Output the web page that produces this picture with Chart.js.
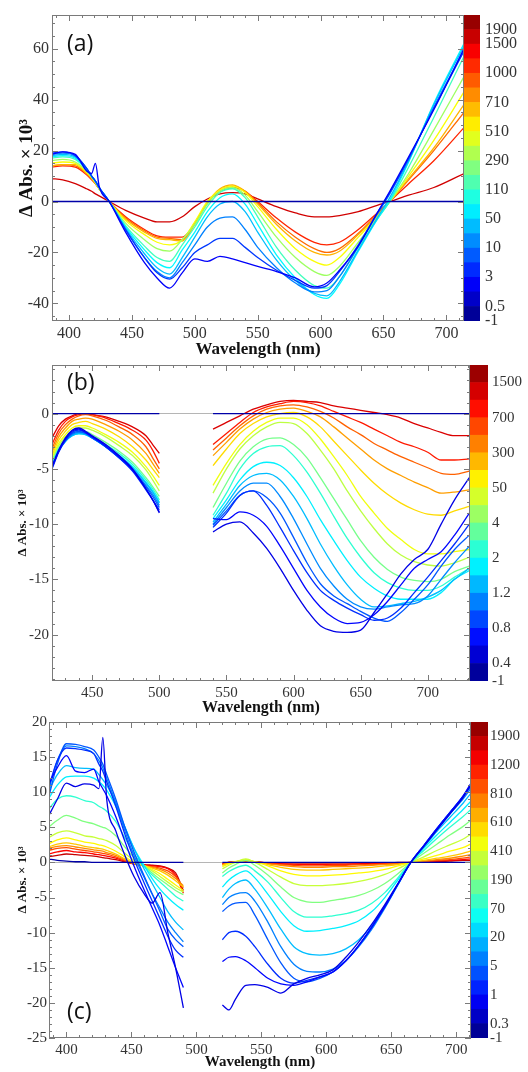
<!DOCTYPE html>
<html>
<head>
<meta charset="utf-8">
<script src="https://cdn.jsdelivr.net/npm/chart.js@4.4.1/dist/chart.umd.min.js"></script>
<style>
  html, body { margin: 0; padding: 0; background: #fff; }
  #page { position: relative; width: 528px; height: 1072px; overflow: hidden; background: #fff; }
  canvas { position: absolute; }
</style>
</head>
<body>
<div id="page">
  <canvas id="plotA" width="464" height="360" style="left:0;top:0"></canvas>
  <canvas id="barA" width="64" height="360" style="left:464px;top:0"></canvas>
  <canvas id="plotB" width="470" height="370" style="left:0;top:350px"></canvas>
  <canvas id="barB" width="58" height="370" style="left:470px;top:350px"></canvas>
  <canvas id="plotC" width="471" height="372" style="left:0;top:700px"></canvas>
  <canvas id="barC" width="57" height="372" style="left:471px;top:700px"></canvas>
</div>
<script>
// === ДАННЫЕ ===

// (a) delays in ps on the colour bar
const aBarLabels = ['-1', '0.5', '3', '10', '50', '110', '290', '510', '710', '1000', '1500', '1900'];
const aBarTicks = [0, 1, 3, 5, 7, 9, 11, 13, 15, 17, 19, 20];
const aXTicks = [400, 450, 500, 550, 600, 650, 700];
const aYTicks = [-40, -20, 0, 20, 40, 60];
const aWave = [386, 395, 405, 414, 418, 421, 424, 432, 445, 460, 470, 480, 490, 500, 510, 520, 530, 540, 550, 565, 580, 595, 605, 615, 630, 645, 655, 670, 690, 714];
const aSpectra = [
    [0, 0, 0, 0, 0, 0, 0, 0, 0, 0, 0, 0, 0, 0, 0, 0, 0, 0, 0, 0, 0, 0, 0, 0, 0, 0, 0, 0, 0, 0],
    [18.5, 19.5, 18.5, 12, 11, 15, 6, 0, -12, -24, -30, -34, -28, -22.5, -23.5, -21.5, -22.5, -24, -25.5, -27.5, -30, -33.5, -32, -27, -17.5, -4.5, 4, 17.5, 36, 60],
    [19, 19.5, 18, 13, 10, 8, 5.5, 0, -11, -22, -28, -30.5, -26, -20, -17, -14.5, -14.5, -18, -22, -27, -31, -34, -33, -27.5, -17, -4.5, 3.5, 17, 36.5, 59],
    [18.5, 19, 18, 13, 10, 8, 5.5, 0, -11, -22, -27.5, -30, -24, -17, -10, -6.5, -6, -11, -18, -26, -32, -35.5, -35, -29.5, -17.5, -5, 3, 16.5, 37, 59.5],
    [18, 18.5, 17.5, 13, 10, 8, 5.5, 0, -10.5, -20.5, -26, -28.5, -22, -14, -6, -1, 0, -4, -12, -23, -31, -36, -37, -31.5, -19, -6.5, 1.5, 16, 38, 61],
    [17.5, 18, 17, 12.5, 10, 8, 5.5, 0, -10, -19, -24, -26, -19, -12, -4, 1.5, 3, -1, -9, -21, -30, -36.5, -38, -32.5, -19.5, -7, 0.5, 15.5, 38.5, 62],
    [17, 17.5, 16.5, 12.5, 10, 8, 5.5, 0, -9.5, -17.5, -22, -23.5, -17, -10, -2, 3.5, 5, 1.5, -6, -18, -27, -33, -34, -29.5, -18, -7, 0, 13.5, 33, 57],
    [16, 16.5, 15.5, 12, 9.5, 7.5, 5, 0, -8.5, -15, -18.5, -19.5, -15, -9, -1, 4, 5.5, 2.5, -4, -14, -22, -27.5, -29, -25.5, -16, -6.5, 0, 11, 28, 49],
    [15, 15.5, 15, 11.5, 9.5, 7.5, 5, 0, -7.5, -13, -16, -17, -15, -8, 0, 4.5, 6, 3.5, -2, -11, -18.5, -23.5, -25, -22, -14, -6, 0, 10, 24, 43],
    [14, 14.5, 14.5, 11, 9, 7, 5, 0, -7, -12, -14.5, -15, -15.5, -9, -0.5, 5, 6.5, 4, -1, -9, -15.5, -20, -21, -19.5, -13, -5.5, 0, 9, 21, 38],
    [14, 14.5, 14, 11, 9, 7, 5, 0, -6.5, -11.5, -14, -14.5, -15, -8.5, -0.5, 4.5, 6, 4, -0.5, -8, -14, -18.5, -20, -18.5, -12.5, -5, 0, 8.5, 20, 35],
    [13.5, 14, 13.5, 10.5, 8.5, 7, 5, 0, -6, -11, -13.5, -14, -14, -8.5, -0.5, 4, 5.5, 4, 0, -6.5, -12, -16, -17, -16, -11, -4.5, 0, 7, 16, 29],
    [9, 8.5, 7, 5, 4, 3, 2.2, 0, -3.5, -6.5, -8, -8, -6, -2, 1, 3, 3.5, 3, 1, -2, -4.5, -6, -6, -5.5, -4, -1.5, 0, 2.5, 5.5, 11]
];

// (b)
const bBarLabels = ['-1', '0.4', '0.8', '1.2', '2', '4', '50', '300', '700', '1500'];
const bBarTicks = [0, 1, 3, 5, 7, 9, 11, 13, 15, 17];
const bXTicks = [450, 500, 550, 600, 650, 700];
const bYTicks = [-20, -15, -10, -5, 0];
const bWaveLeft = [420, 425, 430, 435, 440, 445, 450, 460, 470, 480, 490, 495, 500];
const bWaveRight = [540, 550, 560, 570, 580, 590, 600, 610, 620, 630, 640, 650, 660, 670, 680, 690, 700, 710, 720, 731];
const bLeft = [
    [0, 0, 0, 0, 0, 0, 0, 0, 0, 0, 0, 0, 0],
    [-4.8, -3.3, -2.2, -1.5, -1.3, -1.6, -2, -2.8, -3.8, -5, -6.8, -7.8, -9],
    [-4.9, -3.4, -2.3, -1.6, -1.4, -1.7, -2.1, -2.9, -3.9, -5.1, -6.8, -7.8, -8.9],
    [-5, -3.5, -2.4, -1.7, -1.5, -1.7, -2.1, -3, -4, -5.2, -6.9, -7.8, -8.7],
    [-4.9, -3.4, -2.4, -1.8, -1.6, -1.8, -2.2, -3, -4, -5.1, -6.6, -7.5, -8.5],
    [-4.8, -3.4, -2.5, -1.9, -1.7, -1.8, -2.2, -3, -4, -5, -6.5, -7.3, -8.3],
    [-4.7, -3.3, -2.5, -2, -1.8, -1.9, -2.2, -3, -3.9, -4.9, -6.3, -7.1, -8.1],
    [-4.6, -3.3, -2.5, -2, -1.8, -1.9, -2.2, -3, -3.8, -4.8, -6.2, -7, -8],
    [-4.5, -3.2, -2.4, -1.9, -1.8, -1.8, -2.1, -2.8, -3.6, -4.6, -6, -6.8, -7.8],
    [-4.4, -3.1, -2.3, -1.8, -1.6, -1.6, -1.9, -2.6, -3.4, -4.4, -5.8, -6.6, -7.5],
    [-4.2, -2.9, -2.1, -1.5, -1.3, -1.3, -1.5, -2.1, -2.9, -3.8, -5.1, -6, -7],
    [-4, -2.7, -1.9, -1.3, -1.1, -1.1, -1.3, -1.9, -2.6, -3.5, -4.8, -5.6, -6.5],
    [-3.8, -2.4, -1.6, -1, -0.8, -0.7, -0.9, -1.4, -2.1, -3, -4.2, -5, -5.8],
    [-3.5, -2.1, -1.3, -0.7, -0.5, -0.4, -0.5, -1, -1.6, -2.4, -3.6, -4.5, -5.4],
    [-3.2, -1.8, -1, -0.5, -0.2, -0.1, -0.2, -0.6, -1.2, -1.9, -3, -4, -5],
    [-2.8, -1.5, -0.7, -0.3, -0.1, 0, -0.1, -0.4, -0.9, -1.5, -2.4, -3.3, -4.5],
    [-2.2, -1.1, -0.5, -0.2, 0, 0, -0.1, -0.3, -0.7, -1.2, -2, -2.8, -3.6]
];
const bRight = [
    [0, 0, 0, 0, 0, 0, 0, 0, 0, 0, 0, 0, 0, 0, 0, 0, 0, 0, 0, 0],
    [-10.7, -10, -9.8, -10.8, -12.2, -14, -16, -17.8, -19.2, -19.7, -19.8, -19.6, -18, -16.3, -14.5, -13.2, -12.3, -10, -7.8, -5.8],
    [-9.5, -9.6, -8.9, -9.2, -10.2, -12, -14, -16, -17.5, -18.5, -19, -18.9, -18.2, -17, -15.5, -14, -13.2, -12.5, -11, -9],
    [-10.3, -9, -7.4, -7, -8.3, -10.3, -12.4, -14.4, -16, -16.9, -17.6, -18.2, -18.7, -18.5, -17.6, -16.2, -14.8, -13.3, -11.8, -10],
    [-10.1, -8.8, -7.4, -7, -7.6, -9, -11.2, -13.5, -15.4, -16.5, -17.2, -17.9, -18.5, -18.8, -18, -16.8, -15.5, -13.8, -12.3, -11],
    [-10, -8.5, -7, -6.3, -6.3, -7.5, -9.5, -11.8, -14, -15.6, -16.8, -17.5, -17.7, -17.5, -17.3, -17.2, -16.5, -15, -13.5, -12],
    [-9.8, -8.2, -6.5, -5.6, -5.4, -6, -7.5, -9.5, -11.8, -13.8, -15.5, -16.8, -17.5, -17.4, -17.2, -17, -16.6, -16, -15, -14],
    [-9.5, -7.8, -6, -4.8, -4.4, -4.7, -5.8, -7.5, -9.6, -11.5, -13.3, -14.8, -15.8, -16.5, -16.8, -16.8, -16.8, -16.2, -15, -14.2],
    [-9.2, -7.2, -5, -3.6, -3, -2.9, -3.8, -5.3, -7.2, -9.3, -11.3, -13, -14.4, -15.3, -15.8, -16, -16, -15.6, -14.8, -14],
    [-8.5, -6.3, -4.3, -3, -2.3, -2.2, -2.8, -4, -5.8, -7.7, -9.6, -11.5, -13, -14.1, -14.8, -15.1, -15.2, -15, -14.3, -13.8],
    [-7.2, -5, -3.2, -2, -1.2, -0.8, -0.9, -1.8, -3.3, -5, -7, -8.8, -10.4, -11.8, -12.8, -13.4, -13.7, -13.8, -13.5, -13],
    [-6.5, -4.5, -2.8, -1.6, -0.8, -0.4, -0.4, -1, -2.3, -3.9, -5.6, -7.5, -9, -10.4, -11.4, -12.3, -12.7, -12.7, -12.5, -12.3],
    [-4.7, -3.2, -1.8, -0.9, -0.3, 0, 0.1, -0.3, -1.2, -2.5, -3.8, -5.1, -6.3, -7.3, -8.1, -8.7, -9.1, -9.2, -8.8, -8.4],
    [-3.8, -2.6, -1.4, -0.5, 0.1, 0.4, 0.5, 0.2, -0.3, -1.2, -2.2, -3.2, -4.2, -5, -5.6, -6.2, -6.7, -7.2, -7.1, -6.9],
    [-3.3, -2.2, -1.1, -0.2, 0.4, 0.7, 0.8, 0.6, 0.2, -0.4, -1.2, -1.9, -2.7, -3.3, -3.9, -4.4, -4.9, -5.4, -5.5, -5.2],
    [-2.8, -1.8, -0.8, 0.1, 0.6, 0.9, 1.1, 1, 0.7, 0.2, -0.3, -0.8, -1.4, -2, -2.6, -3, -3.5, -4.2, -4.2, -4.1],
    [-1.4, -0.8, -0.2, 0.4, 0.8, 1.1, 1.2, 1.1, 1, 0.7, 0.5, 0.3, 0.1, -0.1, -0.4, -0.9, -1.3, -1.7, -2, -2]
];

// (c)
const cBarLabels = ['-1', '0.3', '1', '5', '20', '70', '190', '410', '610', '810', '1200', '1900'];
const cBarTicks = [0, 1, 3, 5, 7, 9, 11, 13, 15, 17, 19, 21];
const cXTicks = [400, 450, 500, 550, 600, 650, 700];
const cYTicks = [-25, -20, -15, -10, -5, 0, 5, 10, 15, 20];
const cWaveLeft = [386, 393, 400, 407, 414, 421, 425, 428, 431, 438, 445, 452, 460, 466, 472, 478, 484, 490];
const cWaveRight = [520, 525, 530, 538, 545, 555, 565, 575, 585, 595, 605, 615, 625, 635, 645, 655, 665, 675, 685, 695, 705, 711];
const cLeft = [
    [0.5, 0.3, 0.2, 0.1, 0.1, 0, 0, 0, 0, 0, 0, 0, 0, 0, 0, 0, 0, 0],
    [6.5, 9, 11.3, 10.8, 11.2, 11, 10.5, 17.8, 9, 4.5, 1, -2, -4.5, -5.8, -4.3, -10, -15, -20.7],
    [11, 13.5, 15.2, 13, 12.8, 13.3, 11.5, 10.5, 9.5, 6.5, 3, -0.5, -4, -6.5, -9, -12, -15, -17.8],
    [10.5, 14.5, 16.3, 16.2, 16, 15.5, 14, 13, 11.5, 8, 4, 0.5, -3, -5.5, -8, -10.5, -12.5, -13.5],
    [9, 14, 16.9, 16.8, 16.5, 16, 15, 14, 12.5, 9, 5, 1.5, -2, -4.5, -7, -9.5, -11, -12],
    [10, 14.5, 16.6, 16.5, 16.2, 15.5, 14.5, 13.5, 12, 8.5, 4.5, 1, -2.2, -4.5, -6.5, -8.5, -10, -11.3],
    [10, 12.5, 13.8, 13.5, 13.4, 13.3, 12.5, 11.8, 11, 8.5, 5, 2, -1, -3, -5, -7, -8.5, -9.6],
    [9, 11, 12.2, 12.3, 12.3, 12, 11.5, 11, 10.3, 8, 5, 2, -0.5, -2.3, -3.8, -5, -6, -6.8],
    [7.5, 9, 9.5, 9.3, 8.8, 8.5, 8, 7.7, 7.3, 5.8, 3.5, 1.2, -0.6, -1.8, -2.8, -3.8, -4.8, -5.5],
    [5, 6, 6.7, 6.3, 5.8, 5.5, 5.2, 5, 4.8, 3.8, 2.2, 0.7, -0.5, -1.5, -2.4, -3.2, -4, -4.6],
    [3.5, 4.2, 4.5, 4.2, 3.8, 3.6, 3.4, 3.3, 3.1, 2.4, 1.3, 0.3, -0.5, -1.2, -2, -2.8, -3.6, -4.2],
    [2.6, 3.2, 3.5, 3.2, 2.9, 2.7, 2.5, 2.4, 2.2, 1.6, 0.8, 0, -0.5, -1, -1.6, -2.4, -3.2, -4],
    [2.2, 2.6, 2.8, 2.6, 2.3, 2.1, 2, 1.9, 1.7, 1.2, 0.5, -0.1, -0.5, -0.8, -1.2, -1.8, -2.6, -3.5],
    [2, 2.3, 2.4, 2.2, 2, 1.8, 1.7, 1.6, 1.4, 1, 0.4, -0.2, -0.5, -0.7, -1, -1.5, -2.3, -3.3],
    [1.7, 2, 2.1, 1.9, 1.7, 1.5, 1.4, 1.3, 1.2, 0.8, 0.3, -0.2, -0.5, -0.6, -0.8, -1.2, -2, -3.6],
    [1.2, 1.5, 1.7, 1.5, 1.4, 1.2, 1.1, 1, 0.9, 0.6, 0.2, -0.2, -0.4, -0.5, -0.6, -0.9, -1.8, -4.4],
    [0.8, 1, 1.2, 1.1, 1, 0.9, 0.8, 0.7, 0.6, 0.4, 0.1, -0.2, -0.3, -0.4, -0.5, -0.8, -1.5, -4]
];
const cRight = [
    [0, 0, 0, 0, 0, 0, 0, 0, 0, 0, 0, 0, 0, 0, 0, 0, 0, 0, 0, 0, 0, 0],
    [-20.3, -21, -19.5, -17.5, -17.4, -17.8, -18.6, -17.3, -16.5, -16, -15.3, -13.5, -11.3, -8.8, -6, -3, 0, 2.3, 4.6, 6.9, 9.2, 11],
    [-14.1, -13.5, -13.4, -14, -15, -16.5, -17.3, -17.5, -17, -16.3, -15.6, -14, -11.8, -9.2, -6.3, -3.1, 0, 2.4, 4.8, 7.1, 9.4, 11.2],
    [-11, -10, -9.8, -10.5, -12, -14.5, -16.5, -17.2, -16.8, -16.3, -15.6, -14, -11.8, -9.2, -6.3, -3.1, 0, 2.4, 4.8, 7.1, 9.4, 11.1],
    [-7, -6.2, -5.8, -5.7, -7.5, -11, -14.3, -16.5, -17, -16.5, -15.6, -14, -11.8, -9.2, -6.3, -3.1, 0, 2.4, 4.8, 7.1, 9.3, 10.8],
    [-6, -5, -4.5, -4.3, -5.5, -8.5, -12, -14.5, -15.5, -15.6, -15.2, -14, -12, -9.5, -6.5, -3.2, 0, 2.3, 4.6, 6.9, 9, 10.5],
    [-5, -3.8, -3, -2.5, -3.8, -6.5, -9.5, -12, -13, -13.2, -13, -12.3, -11, -9, -6.3, -3.2, 0, 2.2, 4.4, 6.4, 8.4, 9.8],
    [-3.5, -2.5, -1.8, -1.2, -2.2, -4.5, -7, -9, -9.8, -9.7, -9.4, -9, -8.3, -7, -5, -2.5, 0, 2, 3.9, 5.7, 7.5, 8.7],
    [-2, -1.3, -0.8, -0.4, -1.2, -2.8, -5, -7, -7.8, -7.8, -7.6, -7.3, -6.8, -5.8, -4.3, -2.2, 0, 1.7, 3.4, 5, 6.5, 7.5],
    [-1.5, -0.8, -0.3, 0.3, -0.4, -1.8, -3.5, -5, -5.6, -5.7, -5.4, -5.1, -4.7, -4, -3, -1.6, 0, 1.3, 2.6, 3.9, 5.1, 6],
    [-0.9, -0.4, 0, 0.5, 0, -1, -2.1, -3, -3.3, -3.3, -3.2, -3, -2.7, -2.3, -1.7, -0.9, 0, 0.8, 1.7, 2.5, 3.3, 4],
    [-0.6, -0.2, 0.1, 0.4, 0.1, -0.5, -1.2, -1.7, -1.9, -1.9, -1.8, -1.7, -1.5, -1.3, -1, -0.5, 0, 0.5, 1, 1.6, 2.1, 2.6],
    [-0.4, -0.1, 0.1, 0.3, 0.1, -0.3, -0.7, -1, -1.1, -1.1, -1, -0.9, -0.8, -0.7, -0.5, -0.3, 0, 0.3, 0.6, 0.9, 1.3, 1.6],
    [-0.3, 0, 0.1, 0.2, 0.1, -0.2, -0.4, -0.6, -0.7, -0.7, -0.6, -0.6, -0.5, -0.4, -0.3, -0.2, 0, 0.2, 0.4, 0.6, 0.9, 1.1],
    [-0.3, 0, 0.1, 0.2, 0.1, -0.1, -0.3, -0.4, -0.5, -0.5, -0.4, -0.4, -0.3, -0.3, -0.2, -0.1, 0, 0.1, 0.3, 0.4, 0.6, 0.8],
    [-0.2, 0, 0.1, 0.1, 0.1, -0.1, -0.2, -0.3, -0.3, -0.3, -0.3, -0.3, -0.2, -0.2, -0.1, -0.1, 0, 0.1, 0.2, 0.3, 0.4, 0.5],
    [-0.2, 0, 0.1, 0.1, 0, -0.1, -0.2, -0.2, -0.2, -0.2, -0.2, -0.2, -0.2, -0.1, -0.1, 0, 0, 0.1, 0.1, 0.2, 0.3, 0.3]
];

// === ОФОРМЛЕНИЕ ===
const serif = '"Liberation Serif", "DejaVu Serif", serif';
const yTitle = 'Δ Abs. × 10³';

// position of each curve on the jet scale (0 = navy, 1 = dark red)
const aShade = [0.04, 0.12, 0.18, 0.25, 0.31, 0.37, 0.44, 0.53, 0.62, 0.7, 0.77, 0.84, 0.92];
const bShade = [0.04, 0.1, 0.13, 0.17, 0.21, 0.26, 0.31, 0.36, 0.42, 0.49, 0.56, 0.61, 0.66, 0.72, 0.78, 0.85, 0.91];
const cShade = [0.04, 0.1, 0.13, 0.17, 0.21, 0.25, 0.31, 0.36, 0.42, 0.5, 0.57, 0.63, 0.68, 0.74, 0.8, 0.87, 0.93];

function jet(t) {
    const c = v => Math.round(255 * Math.min(1, Math.max(0, v)));
    return `rgb(${c(1.5 - Math.abs(4 * t - 3))},${c(1.5 - Math.abs(4 * t - 2))},${c(1.5 - Math.abs(4 * t - 1))})`;
}

function lineSet(points, shade) {
    return { data: points, borderColor: jet(shade), borderWidth: 1.3, pointRadius: 0, fill: false, spanGaps: false, cubicInterpolationMode: 'monotone' };
}

function oneSegment(waves, rows, shades) {
    return rows.map((row, i) => lineSet(row.map((v, j) => ({ x: waves[j], y: v })), shades[i]));
}

function twoSegments(wl, wr, left, right, shades) {
    const gap = (wl[wl.length - 1] + wr[0]) / 2;
    return left.map((row, i) => lineSet([
        ...row.map((v, j) => ({ x: wl[j], y: v })),
        { x: gap, y: null },
        ...right[i].map((v, j) => ({ x: wr[j], y: v }))
    ], shades[i]));
}

// рамка, засечки внутрь и метка панели
const framePlugin = {
    id: 'frame',
    afterDatasetsDraw(chart, args, o) {
        const { ctx, chartArea: a, scales: { x, y } } = chart;
        ctx.save();
        ctx.strokeStyle = '#7a7a7a';
        ctx.lineWidth = 1;
        const marks = (scale, major, minor, horiz) => {
            const start = Math.ceil(scale.min / minor) * minor;
            for (let v = start; v <= scale.max + 1e-9; v += minor) {
                const isMajor = Math.abs(v / major - Math.round(v / major)) < 1e-6;
                const len = isMajor ? 6 : 3;
                const p = Math.round(scale.getPixelForValue(v)) + 0.5;
                ctx.beginPath();
                if (horiz) {
                    ctx.moveTo(p, a.bottom); ctx.lineTo(p, a.bottom - len);
                    ctx.moveTo(p, a.top); ctx.lineTo(p, a.top + len);
                } else {
                    ctx.moveTo(a.left, p); ctx.lineTo(a.left + len, p);
                    ctx.moveTo(a.right, p); ctx.lineTo(a.right - len, p);
                }
                ctx.stroke();
            }
        };
        marks(x, o.xMajor, o.xMinor, true);
        marks(y, o.yMajor, o.yMinor, false);
        ctx.strokeRect(a.left + 0.5, a.top + 0.5, a.width - 1, a.height - 1);
        ctx.fillStyle = '#111';
        ctx.font = '23px "Open Sans", "Noto Sans", sans-serif';
        ctx.textBaseline = 'middle';
        ctx.fillText(o.tag, a.left + o.tagX, o.tagY < 0 ? a.bottom + o.tagY : a.top + o.tagY);
        ctx.restore();
    }
};

function plot(id, datasets, p) {
    new Chart(document.getElementById(id), {
        type: 'line',
        data: { datasets },
        plugins: [framePlugin],
        options: {
            responsive: false,
            animation: false,
            layout: { padding: { top: p.padTop, left: 0, right: 0, bottom: 0 } },
            plugins: {
                legend: { display: false },
                tooltip: { enabled: false },
                frame: { tag: p.tag, tagX: p.tagX, tagY: p.tagY, xMajor: 50, xMinor: 10, yMajor: p.yMajor, yMinor: p.yMinor }
            },
            scales: {
                x: {
                    type: 'linear', min: p.xMin, max: p.xMax,
                    afterBuildTicks: s => { s.ticks = p.xTicks.map(v => ({ value: v })); },
                    afterFit: s => { s.height = p.xAxisH; },
                    grid: { display: false, drawTicks: false },
                    border: { display: false },
                    ticks: { autoSkip: false, maxRotation: 0, padding: 3, color: '#333', font: { family: serif, size: p.tickSize } },
                    title: { display: true, text: 'Wavelength (nm)', color: '#111', font: { family: serif, size: p.xTitleSize, weight: 'bold' }, padding: { top: 0, bottom: p.xTitlePad } }
                },
                y: {
                    type: 'linear', min: p.yMin, max: p.yMax,
                    afterBuildTicks: s => { s.ticks = p.yTicks.map(v => ({ value: v })); },
                    afterFit: s => { s.width = p.yAxisW; },
                    grid: { drawTicks: false, color: c => (c.tick && c.tick.value === 0 ? '#b5b5b5' : 'rgba(0,0,0,0)') },
                    border: { display: false },
                    ticks: { autoSkip: false, padding: p.yTickPad, color: '#333', font: { family: serif, size: p.tickSize } },
                    title: { display: true, text: yTitle, color: '#111', font: { family: serif, size: p.yTitleSize, weight: 'bold' }, padding: { top: p.yTitlePad, bottom: 0 } }
                }
            }
        }
    });
}

function colourBar(id, bands, tickPos, tickText, p) {
    const sets = [];
    for (let i = 0; i < bands; i++) {
        sets.push({ data: [1], backgroundColor: jet((i + 0.5) / bands), borderWidth: 0, barPercentage: 1, categoryPercentage: 1 });
    }
    new Chart(document.getElementById(id), {
        type: 'bar',
        data: { labels: [''], datasets: sets },
        options: {
            responsive: false,
            animation: false,
            layout: { padding: { top: p.top, bottom: p.bottom, left: 0, right: 0 } },
            plugins: { legend: { display: false }, tooltip: { enabled: false } },
            scales: {
                x: { stacked: true, display: false },
                y: {
                    stacked: true, position: 'right', min: 0, max: bands,
                    afterBuildTicks: s => { s.ticks = tickPos.map(v => ({ value: v })); },
                    afterFit: s => { s.width = p.axisW; },
                    grid: { display: false, drawTicks: false },
                    border: { display: false },
                    ticks: { autoSkip: false, padding: p.pad, color: '#333', font: { family: serif, size: p.size }, callback: (v, i) => tickText[i] }
                }
            }
        }
    });
}

// === ПАНЕЛИ ===
plot('plotA', oneSegment(aWave, aSpectra, aShade), {
    padTop: 15, xAxisH: 39, yAxisW: 52, xMin: 386.5, xMax: 714, yMin: -46.9, yMax: 73.2,
    xTicks: aXTicks, yTicks: aYTicks, yMajor: 20, yMinor: 5,
    tickSize: 16, xTitleSize: 17, xTitlePad: 0, yTickPad: 3,
    yTitleSize: 19, yTitlePad: 16,
    tag: '(a)', tagX: 15, tagY: 29
});
colourBar('barA', 21, aBarTicks, aBarLabels, { top: 15, bottom: 39, axisW: 48, pad: 5, size: 16 });

plot('plotB', twoSegments(bWaveLeft, bWaveRight, bLeft, bRight, bShade), {
    padTop: 15, xAxisH: 39, yAxisW: 52, xMin: 420, xMax: 731.5, yMin: -24.2, yMax: 4.4,
    xTicks: bXTicks, yTicks: bYTicks, yMajor: 5, yMinor: 1,
    tickSize: 15, xTitleSize: 16, xTitlePad: 3, yTickPad: 3,
    yTitleSize: 13, yTitlePad: 15,
    tag: '(b)', tagX: 15, tagY: 18
});
colourBar('barB', 18, bBarTicks, bBarLabels, { top: 15, bottom: 39, axisW: 40, pad: 4, size: 15 });

plot('plotC', twoSegments(cWaveLeft, cWaveRight, cLeft, cRight, cShade), {
    padTop: 22, xAxisH: 34, yAxisW: 49, xMin: 386.6, xMax: 711.3, yMin: -25, yMax: 20,
    xTicks: cXTicks, yTicks: cYTicks, yMajor: 5, yMinor: 1,
    tickSize: 15, xTitleSize: 15, xTitlePad: 1, yTickPad: 2,
    yTitleSize: 13, yTitlePad: 15,
    tag: '(c)', tagX: 18, tagY: -26
});
colourBar('barC', 22, cBarTicks, cBarLabels, { top: 22, bottom: 34, axisW: 40, pad: 2, size: 15 });
</script>
</body>
</html>
